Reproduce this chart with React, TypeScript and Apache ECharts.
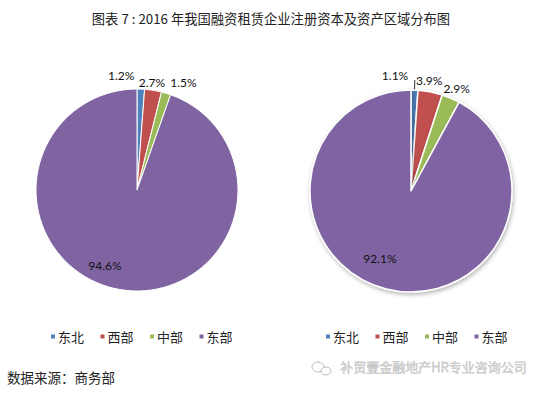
import React, { useEffect, useRef } from "react";
import * as echarts from "echarts";

const categories = ["东北", "西部", "中部", "东部"];
const capitalValues = [1.2, 2.7, 1.5, 94.6];
const assetValues = [1.1, 3.9, 2.9, 92.1];
const colors = ["#4F81BD", "#C0504D", "#9BBB59", "#8064A2"];
const titleText = "图表 7 : 2016 年我国融资租赁企业注册资本及资产区域分布图";
const sourceText = "数据来源：商务部";
const watermarkText = "补贸壹金融地产HR专业咨询公司";

const leftShift = [
  [-38, -10],
  [-20, -4],
  [-2, -7],
  [-23, 23],
];
const rightShift = [
  [-38, -5],
  [-20, -7],
  [-14, -6],
  [-18, 16],
];

export default function App() {
  const ref = useRef<HTMLDivElement>(null);
  useEffect(() => {
    if (!ref.current) return;
    const chart = echarts.init(ref.current, null, { renderer: "svg" });
    const numFont = "Lato, 'Noto Sans', sans-serif";
    const cjk = "'Noto Sans CJK SC', sans-serif";
    const mkData = (vals: number[]) =>
      vals.map((v, i) => ({
        name: categories[i],
        value: v,
        label: {
          position: i === 3 ? "inside" : "outside",
        },
      }));
    const makeLayout = (shift: number[][]) => (p: any) => ({
      dx: shift[p.dataIndex][0],
      dy: shift[p.dataIndex][1],
    });
    const common = {
      type: "pie",
      radius: 101,
      startAngle: 90,
      clockwise: true,
      avoidLabelOverlap: false,
      label: {
        show: true,
        formatter: (p: any) => p.value.toFixed(1) + "%",
        fontFamily: numFont,
        fontSize: 12,
        color: "#111",
      },
      labelLine: { show: false, length: 4, length2: 0 },
    };
    const legendCommon = {
      data: categories,
      top: 325,
      icon: "rect",
      itemWidth: 6,
      itemHeight: 6,
      itemGap: 14.5,
      textStyle: { fontFamily: cjk, fontSize: 13, color: "#222", padding: [0, 0, 0, -3] },
    };
    chart.setOption({
      animation: false,
      color: colors,
      title: {
        text: titleText,
        left: "center",
        top: 7,
        textStyle: {
          fontFamily: cjk,
          fontSize: 13.3,
          fontWeight: "normal",
          color: "#222",
        },
      },
      legend: [
        { ...legendCommon, left: 44 },
        { ...legendCommon, left: 319 },
      ],
      series: [
        {
          ...common,
          center: [137, 190],
          itemStyle: { borderColor: "#fff", borderWidth: 1 },
          data: mkData(capitalValues),
          labelLayout: makeLayout(leftShift),
        },
        {
          ...common,
          center: [411, 191],
          itemStyle: {
            borderColor: "#fff",
            borderWidth: 1.5,
            shadowBlur: 4,
            shadowOffsetX: 1,
            shadowOffsetY: 2,
            shadowColor: "rgba(0,0,0,0.3)",
          },
          data: mkData(assetValues).map((d, i) =>
            i === 0
              ? { ...d, labelLine: { show: true, length: 10, length2: 0, lineStyle: { color: "#333", width: 1 } } }
              : d
          ),
          labelLayout: makeLayout(rightShift),
        },
      ],
      graphic: [
        {
          type: "text",
          left: 7,
          top: 370,
          style: { text: sourceText, font: "13.5px 'Noto Sans CJK SC'", fill: "#222" },
        },
        {
          type: "text",
          left: 340,
          top: 360,
          style: {
            text: watermarkText,
            font: "13px 'Noto Sans CJK SC'",
            fill: "#cfcfcf",
            stroke: "#a0a0a0",
            lineWidth: 0.3,
          },
        },
        {
          type: "ellipse",
          shape: { cx: 318, cy: 367, rx: 6, ry: 5 },
          style: { fill: "none", stroke: "#bbb", lineWidth: 1 },
        },
        {
          type: "ellipse",
          shape: { cx: 326, cy: 371, rx: 5, ry: 4 },
          style: { fill: "#fff", stroke: "#bbb", lineWidth: 1 },
        },
      ],
    });
    return () => chart.dispose();
  }, []);
  return (
    <div
      ref={ref}
      style={{ position: "absolute", left: 0, top: 0, width: 542, height: 393 }}
    />
  );
}
